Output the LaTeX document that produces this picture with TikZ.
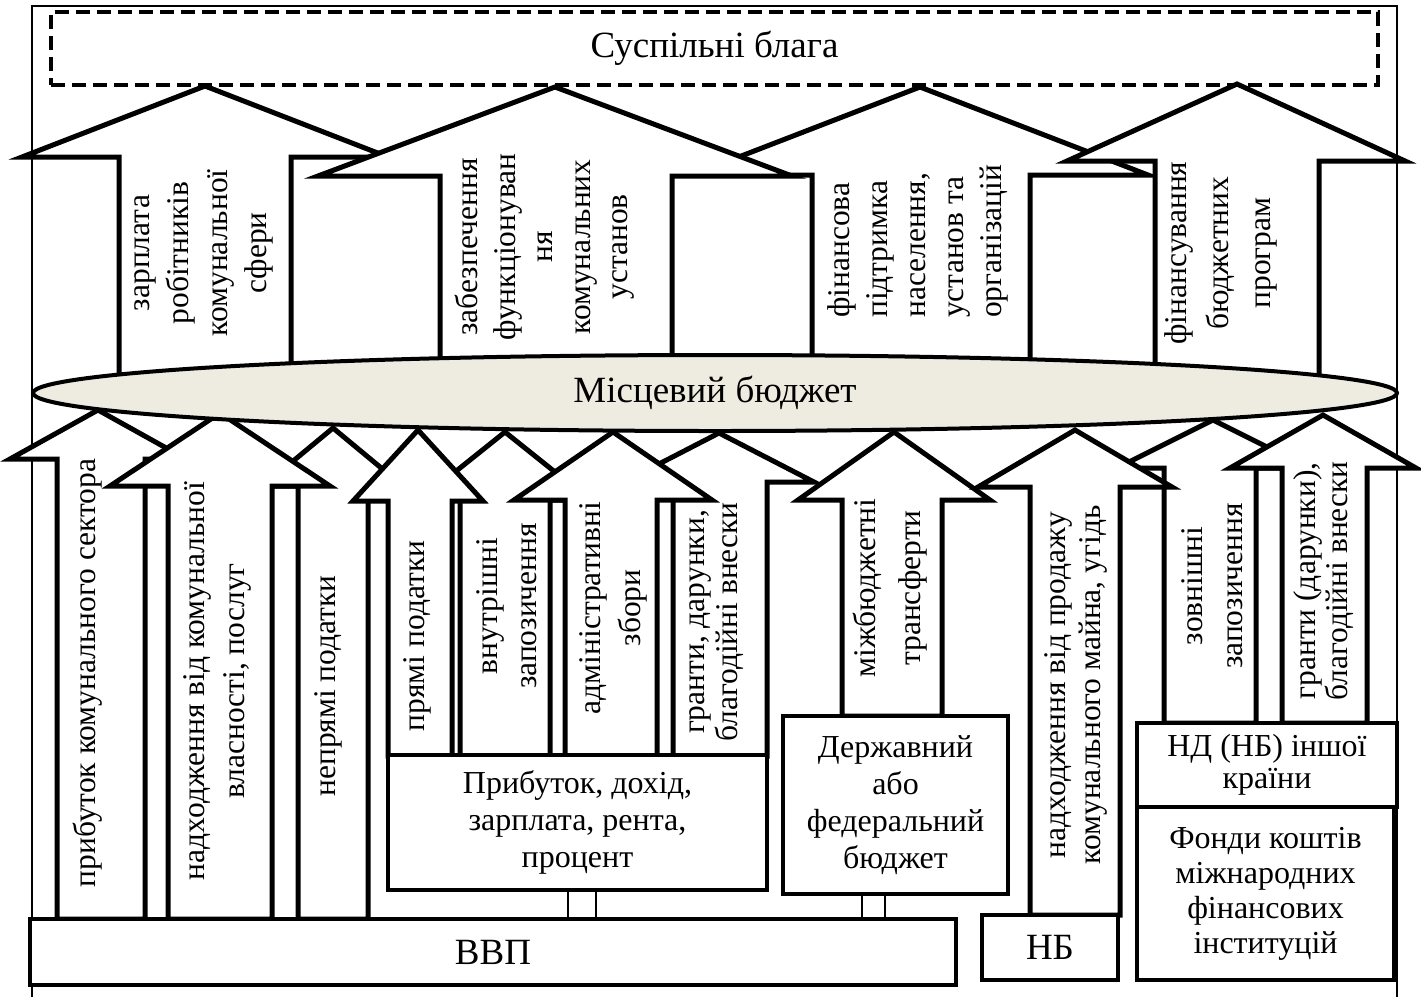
\documentclass[tikz,border=0pt]{standalone}
\usepackage{fontspec}
\setmainfont{Liberation Serif}
\usetikzlibrary{shapes.geometric}
\definecolor{budgetfill}{RGB}{238,236,225}

\begin{document}
\begin{tikzpicture}[x=1pt,y=-1pt,
        frame/.style={line width=1.2pt},
        goodsbox/.style={draw,dash pattern=on 14pt off 7pt,line width=4.5pt,minimum width=1327pt,minimum height=73pt,inner sep=0pt,font=\fontsize{37}{44}\selectfont},
        barrow/.style={draw,fill=white,line width=5pt},
        vlbl/.style={rotate=90,align=center,inner sep=0pt,font=\fontsize{31.5}{38}\selectfont},
        srcbox/.style={draw,fill=white,line width=4.5pt,align=center,inner sep=0pt,font=\fontsize{32}{37}\selectfont},
        link/.style={line width=1.5pt}]
        \useasboundingbox (0,0) rectangle (1421,997);
        \draw[frame] (32,997) -- (32,6) -- (1397,6) -- (1397,997);
        \node[goodsbox] (goods) at (714.5,48.5) {Суспільні блага};

        \filldraw[barrow] (119,400) -- (119,157) -- (22,157) -- (205,86) -- (388,157) -- (291,157) -- (291,400) -- cycle;
        \filldraw[barrow] (812,400) -- (812,175) -- (692,175) -- (920,87) -- (1148,175) -- (1030,175) -- (1030,400) -- cycle;
        \filldraw[barrow] (440,400) -- (440,176) -- (318,176) -- (555,87) -- (792,176) -- (672,176) -- (672,400) -- cycle;
        \filldraw[barrow] (1155,400) -- (1155,161) -- (1067,161) -- (1237,84) -- (1405,161) -- (1319,161) -- (1319,400) -- cycle;

        \node[vlbl,font=\fontsize{31.5}{39}\selectfont] (wage) at (204,253) {зарплата\\робітників\\комунальної\\сфери};
        \node[vlbl,font=\fontsize{31.5}{37.5}\selectfont] (upkeep) at (545,247) {забезпечення\\функціонуван\\ня\\комунальних\\установ};
        \node[vlbl,align=left,anchor=west] (support) at (918,318) {фінансова\\підтримка\\населення,\\установ та\\організацій};
        \node[vlbl,font=\fontsize{31.5}{42}\selectfont] (programs) at (1221,253) {фінансування\\бюджетних\\програм};

        \filldraw[barrow] (57,919) -- (57,459) -- (10,459) -- (98,410) -- (186,459) -- (145,459) -- (145,919) -- cycle;
        \filldraw[barrow] (298,919) -- (298,486) -- (263,486) -- (333,428) -- (403,486) -- (368,486) -- (368,919) -- cycle;
        \filldraw[barrow] (460,756) -- (460,500) -- (420,500) -- (505,432) -- (590,500) -- (550,500) -- (550,756) -- cycle;
        \filldraw[barrow] (673,756) -- (673,482) -- (624,482) -- (719,433) -- (814,482) -- (767,482) -- (767,756) -- cycle;
        \filldraw[barrow] (1164,723) -- (1164,468) -- (1117,468) -- (1213,420) -- (1309,468) -- (1256,468) -- (1256,723) -- cycle;
        \filldraw[barrow] (168,919) -- (168,486) -- (110,486) -- (220,413) -- (330,486) -- (272,486) -- (272,919) -- cycle;
        \filldraw[barrow] (388,756) -- (388,501) -- (353,501) -- (418,430) -- (483,501) -- (452,501) -- (452,756) -- cycle;
        \filldraw[barrow] (565,756) -- (565,500) -- (514,500) -- (613,432) -- (712,500) -- (657,500) -- (657,756) -- cycle;
        \filldraw[barrow] (842,716) -- (842,500) -- (798,500) -- (894,432) -- (990,500) -- (942,500) -- (942,716) -- cycle;
        \filldraw[barrow] (1030,915) -- (1030,487) -- (978,487) -- (1075,430) -- (1172,487) -- (1120,487) -- (1120,915) -- cycle;
        \filldraw[barrow] (1282,723) -- (1282,468) -- (1230,468) -- (1323,415) -- (1416,468) -- (1367,468) -- (1367,723) -- cycle;

        \node[vlbl] (profit) at (88,673) {прибуток комунального сектора};
        \node[vlbl,font=\fontsize{31.5}{40}\selectfont] (property) at (217,681) {надходження від комунальної\\власності, послуг};
        \node[vlbl] (indirect) at (328,686) {непрямі податки};
        \node[vlbl] (direct) at (417,636) {прямі податки};
        \node[vlbl,font=\fontsize{31.5}{39}\selectfont] (intloan) at (507,606) {внутрішні\\запозичення};
        \node[vlbl,font=\fontsize{31.5}{40}\selectfont] (fees) at (613,608) {адміністративні\\збори};
        \node[vlbl,font=\fontsize{31.5}{33}\selectfont] (grants) at (717,622) {гранти, дарунки,\\благодійні внески};
        \node[vlbl,font=\fontsize{31.5}{45}\selectfont] (transfers) at (890,588) {міжбюджетні\\трансферти};
        \node[vlbl,font=\fontsize{31.5}{35}\selectfont] (sales) at (1076,685) {надходження від продажу\\комунального майна, угідь};
        \node[vlbl,font=\fontsize{31.5}{40}\selectfont] (extloan) at (1212,586) {зовнішні\\запозичення};
        \node[vlbl,font=\fontsize{31.5}{32}\selectfont] (extgrants) at (1324,581) {гранти (дарунки),\\благодійні внески};

        \node[ellipse,draw,fill=budgetfill,line width=4pt,minimum width=1364pt,minimum height=76pt,inner sep=0pt,font=\fontsize{37}{44}\selectfont] (budget) at (715,393) {Місцевий бюджет};

        \node[srcbox,minimum width=926pt,minimum height=66pt,font=\fontsize{37}{44}\selectfont] (gdp) at (493,952) {ВВП};
        \node[srcbox,minimum width=379pt,minimum height=135pt] (income) at (577.5,822.5) {Прибуток, дохід,\\зарплата, рента,\\процент};
        \node[srcbox,minimum width=225pt,minimum height=178pt] (state) at (895.5,805) {Державний\\або\\федеральний\\бюджет};
        \node[srcbox,minimum width=136pt,minimum height=65pt,font=\fontsize{37}{44}\selectfont] (nb) at (1050,947.5) {НБ};
        \node[srcbox,minimum width=260pt,minimum height=84pt,font=\fontsize{32}{32}\selectfont] (foreign) at (1267,765) {НД (НБ) іншої\\країни};
        \node[srcbox,minimum width=257pt,minimum height=173pt,font=\fontsize{32}{35}\selectfont] (funds) at (1265.5,893.5) {Фонди коштів\\міжнародних\\фінансових\\інституцій};

        \draw[link] ([xshift=-9.5pt]income.south) -- ([xshift=-9.5pt]income.south |- gdp.north);
        \draw[link] ([xshift=18.5pt]income.south) -- ([xshift=18.5pt]income.south |- gdp.north);
        \draw[link] ([xshift=-33.5pt]state.south) -- ([xshift=-33.5pt]state.south |- gdp.north);
        \draw[link] ([xshift=-10.5pt]state.south) -- ([xshift=-10.5pt]state.south |- gdp.north);
\end{tikzpicture}
\end{document}
